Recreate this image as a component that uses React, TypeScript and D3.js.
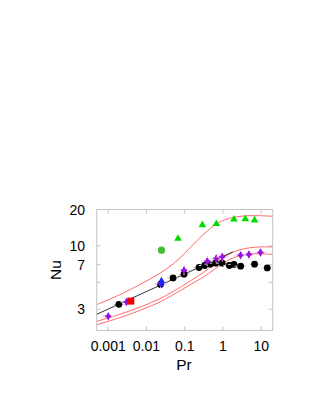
import React from "react";
import * as d3 from "d3";

// ---- data (Pr, Nu) ----
const xTickValues = [0.001, 0.01, 0.1, 1, 10];
const xTickLabels = ["0.001", "0.01", "0.1", "1", "10"];
const yTickValues = [3, 5, 7, 10, 20];
const yTickLabels = ["3", "", "7", "10", "20"];

// theory curves (red)
const curveTopPr = [0.0005, 0.002, 0.0067, 0.02, 0.05, 0.1, 0.2, 0.4, 0.8, 1.5, 3, 6, 20];
const curveTopNu = [3.27, 3.95, 4.8, 5.8, 7.1, 8.7, 10.9, 13.4, 15.7, 16.9, 17.6, 17.8, 17.6];
const curveMidPr = [0.0005, 0.002, 0.0067, 0.02, 0.05, 0.135, 0.3, 0.6, 1.2, 2.5, 5, 10, 20];
const curveMidNu = [2.38, 2.72, 3.12, 3.6, 4.2, 5.1, 6.0, 7.1, 8.3, 9.2, 9.65, 9.82, 9.8];
const curveLowPr = [0.0005, 0.002, 0.0067, 0.02, 0.05, 0.135, 0.3, 0.6, 1.2, 2.5, 5, 10, 20];
const curveLowNu = [2.23, 2.55, 2.93, 3.38, 3.95, 4.75, 5.5, 6.4, 7.45, 8.25, 8.6, 8.6, 8.5];

// power-law fit (black line)
const fitPr = [0.0005, 1.82];
const fitNu = [2.72, 8.93];

// measurements
const blackPr = [0.0019, 0.0233, 0.0497, 0.096, 0.237, 0.333, 0.47, 0.645, 0.96, 1.47, 1.94, 2.9, 6.7, 14.4];
const blackNu = [3.29, 4.8, 5.44, 5.84, 6.63, 6.89, 7.07, 7.2, 7.2, 6.89, 7.03, 6.8, 7.07, 6.58];

const purplePr = [0.001, 0.003, 0.0233, 0.096, 0.39, 0.67, 0.96, 2.9, 4.77, 9.6];
const purpleNu = [2.62, 3.44, 4.9, 6.3, 7.48, 7.88, 8.12, 8.39, 8.5, 8.83];

const greenTriPr = [0.067, 0.29, 0.67, 1.94, 3.85, 6.7];
const greenTriNu = [11.5, 14.9, 15.2, 16.6, 16.7, 16.3];

const greenCirclePr = [0.0247];
const greenCircleNu = [9.23];

const bluePr = [0.0247];
const blueNu = [4.98];

const redSqPr = [0.0039];
const redSqNu = [3.5];

const W = 311;
const H = 402;
const left = 96.7;
const right = 272.7;
const top = 209.5;
const bottom = 330.5;

export default function App() {
  const x = d3.scaleLog().domain([0.0005, 20]).range([left, right]);
  const y = d3.scaleLog().domain([2, 20]).range([bottom, top]);

  const zip = (a: number[], b: number[]) => a.map((v, i) => [v, b[i]] as [number, number]);
  const smooth = d3
    .line<[number, number]>()
    .x((d) => x(d[0]))
    .y((d) => y(d[1]))
    .curve(d3.curveCatmullRom.alpha(0.5));
  const straight = d3
    .line<[number, number]>()
    .x((d) => x(d[0]))
    .y((d) => y(d[1]));

  const frame = "#c4c4c4";
  const font = "'Liberation Sans', Arial, Helvetica, sans-serif";
  const tri = d3.symbol().type(d3.symbolTriangle).size(25)() as string;
  const diamond = d3.symbol().type(d3.symbolDiamond).size(38)() as string;
  const pdiamond = d3.symbol().type(d3.symbolDiamond).size(18)() as string;
  const star = d3.symbol().type(d3.symbolCross).size(20)() as string;

  return (
    <svg
      width={W}
      height={H}
      style={{ position: "absolute", left: 0, top: 0, background: "#fff" }}
      fontFamily={font}
    >
      <defs>
        <clipPath id="plotclip">
          <rect x={left} y={top} width={right - left} height={bottom - top} />
        </clipPath>
      </defs>
      {/* frame */}
      <rect x={left} y={top} width={right - left} height={bottom - top} fill="none" stroke={frame} strokeWidth={1} />
      {/* x ticks */}
      {xTickValues.map((v, i) => (
        <g key={"xt" + i}>
          <line x1={x(v)} x2={x(v)} y1={bottom} y2={bottom - 4} stroke={frame} />
          <line x1={x(v)} x2={x(v)} y1={top} y2={top + 4} stroke={frame} />
          <text x={x(v)} y={bottom + 20.5} textAnchor="middle" fontSize={14} fill="#000">
            {xTickLabels[i]}
          </text>
        </g>
      ))}
      {/* y ticks */}
      {yTickValues.map((v, i) => (
        <g key={"yt" + i}>
          <line x1={left} x2={left + 4} y1={y(v)} y2={y(v)} stroke={frame} />
          <line x1={right} x2={right - 4} y1={y(v)} y2={y(v)} stroke={frame} />
          {yTickLabels[i] && (
            <text x={85} y={y(v) + 5} textAnchor="end" fontSize={14} fill="#000">
              {yTickLabels[i]}
            </text>
          )}
        </g>
      ))}
      {/* axis titles */}
      <text x={184} y={370} textAnchor="middle" fontSize={15.5} fill="#000">
        Pr
      </text>
      <text transform={`translate(60.5,270) rotate(-90)`} textAnchor="middle" fontSize={15.5} fill="#000">
        Nu
      </text>

      <g clipPath="url(#plotclip)">
        {/* red theory curves */}
        {[zip(curveTopPr, curveTopNu), zip(curveMidPr, curveMidNu), zip(curveLowPr, curveLowNu)].map((c, i) => (
          <path key={"rc" + i} d={smooth(c) as string} fill="none" stroke="#ff5a5a" strokeWidth={0.9} />
        ))}
        {/* fit line */}
        <path d={straight(zip(fitPr, fitNu)) as string} fill="none" stroke="#000" strokeWidth={0.8} />

        {/* black circles with error bars */}
        {zip(blackPr, blackNu).map((d, i) => (
          <g key={"bk" + i}>
            <line x1={x(d[0]) - 6} x2={x(d[0]) + 6} y1={y(d[1])} y2={y(d[1])} stroke="#d0d0d0" />
            <line x1={x(d[0])} x2={x(d[0])} y1={y(d[1]) - 3} y2={y(d[1]) + 3} stroke="#d0d0d0" />
            <circle cx={x(d[0])} cy={y(d[1])} r={3.4} fill="#000" />
          </g>
        ))}
        {/* purple */}
        {zip(purplePr, purpleNu).map((d, i) => (
          <g key={"pp" + i}>
            <line x1={x(d[0]) - 6} x2={x(d[0]) + 6} y1={y(d[1])} y2={y(d[1])} stroke="#e8c4f6" />
            <line x1={x(d[0])} x2={x(d[0])} y1={y(d[1]) - 5} y2={y(d[1]) + 5} stroke="#e8c4f6" />
            <path d={pdiamond} transform={`translate(${x(d[0])},${y(d[1])})`} fill="#9a10e0" />
            <path d={star} transform={`translate(${x(d[0])},${y(d[1])})`} fill="#9a10e0" />
          </g>
        ))}
        {/* blue diamond */}
        {zip(bluePr, blueNu).map((d, i) => (
          <path key={"bl" + i} d={diamond} transform={`translate(${x(d[0])},${y(d[1])})`} fill="#2020ff" />
        ))}
        {/* red square */}
        {zip(redSqPr, redSqNu).map((d, i) => (
          <rect key={"rs" + i} x={x(d[0]) - 3.5} y={y(d[1]) - 3.5} width={7} height={7} fill="#ee0000" />
        ))}
        {/* green circle */}
        {zip(greenCirclePr, greenCircleNu).map((d, i) => (
          <circle key={"gc" + i} cx={x(d[0])} cy={y(d[1])} r={3.6} fill="#44bb33" />
        ))}
        {/* green triangles */}
        {zip(greenTriPr, greenTriNu).map((d, i) => (
          <path key={"gt" + i} d={tri} transform={`translate(${x(d[0])},${y(d[1])})`} fill="#00dd00" />
        ))}
      </g>
    </svg>
  );
}
